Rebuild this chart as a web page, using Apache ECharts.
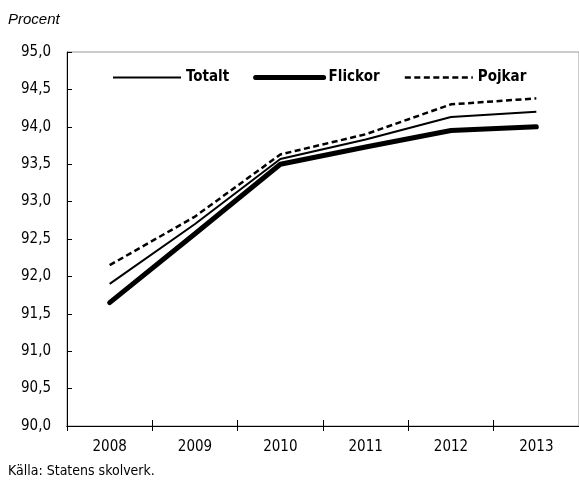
<!DOCTYPE html>
<html>
<head>
<meta charset="utf-8">
<script src="https://cdn.jsdelivr.net/npm/echarts@6/dist/echarts.min.js"></script>
<style>
html,body{margin:0;padding:0;background:#fff;}
#chart{width:579px;height:480px;}
</style>
</head>
<body>
<div id="chart"></div>
<script>
// data
const years = ['2008', '2009', '2010', '2011', '2012', '2013'];
const totalt = [91.9, 92.7, 93.57, 93.83, 94.13, 94.2];
const flickor = [91.65, 92.57, 93.5, 93.73, 93.95, 94.0];
const pojkar = [92.15, 92.8, 93.63, 93.9, 94.3, 94.38];

const narrow = '"Liberation Sans Narrow", "DejaVu Sans Condensed", sans-serif';

let myecharts = echarts.init(document.getElementById('chart'));
let option = {
  animation: false,
  textStyle: {fontFamily: narrow},
  title: [
    {text: 'Procent', left: 3, top: 7,
     textStyle: {fontFamily: '"Liberation Sans", Arial, sans-serif', fontStyle: 'italic', fontWeight: 'normal', fontSize: 15, color: '#000'}},
    {text: 'Källa: Statens skolverk.', left: 3, top: 459,
     textStyle: {fontFamily: narrow, fontWeight: 'normal', fontSize: 14, color: '#000'}}
  ],
  legend: {
    left: 107,
    top: 65,
    itemWidth: 68,
    itemHeight: 14,
    itemGap: 24,
    itemStyle: {opacity: 0},
    textStyle: {fontFamily: narrow, fontWeight: 'bold', fontSize: 15, color: '#000'},
    data: [
      {name: 'Totalt', lineStyle: {width: 2, color: '#000'}},
      {name: 'Flickor', lineStyle: {width: 5, color: '#000'}},
      {name: 'Pojkar', lineStyle: {width: 2.5, color: '#000', type: [6, 3.5]}}
    ]
  },
  grid: {
    left: 67,
    right: -2,
    top: 52,
    bottom: 54,
    show: true,
    borderColor: '#999',
    borderWidth: 1
  },
  xAxis: [
    {
      type: 'category',
      data: years,
      boundaryGap: true,
      axisLine: {lineStyle: {color: '#000', width: 1}},
      axisTick: {show: true, length: 5, lineStyle: {color: '#000'}},
      axisLabel: {color: '#000', fontSize: 15, margin: 14, fontFamily: narrow}
    },
    {
      type: 'category',
      data: years,
      position: 'bottom',
      offset: 0,
      boundaryGap: true,
      axisLine: {show: true, onZero: false, lineStyle: {color: '#000', width: 1}},
      axisTick: {show: true, inside: true, length: 6, lineStyle: {color: '#000'}},
      axisLabel: {show: false}
    }
  ],
  yAxis: {
    type: 'value',
    min: 90,
    max: 95,
    interval: 0.5,
    axisLine: {show: true, lineStyle: {color: '#000', width: 1}},
    axisTick: {show: true, inside: true, length: 5, lineStyle: {color: '#000'}},
    splitLine: {show: false},
    axisLabel: {
      color: '#000', fontSize: 15, margin: 16, fontFamily: narrow,
      formatter: v => v.toFixed(1).replace('.', ',')
    }
  },
  series: [
    {
      name: 'Totalt', type: 'line', data: totalt, symbol: 'none', xAxisIndex: 1,
      lineStyle: {color: '#000', width: 2},
      itemStyle: {color: '#000'}
    },
    {
      name: 'Flickor', type: 'line', data: flickor, symbol: 'none',
      lineStyle: {color: '#000', width: 5, cap: 'round'},
      itemStyle: {color: '#000'}
    },
    {
      name: 'Pojkar', type: 'line', data: pojkar, symbol: 'none',
      lineStyle: {color: '#000', width: 2.5, type: [6, 3.5]},
      itemStyle: {color: '#000'}
    }
  ]
};
myecharts.setOption(option);
</script>
</body>
</html>
